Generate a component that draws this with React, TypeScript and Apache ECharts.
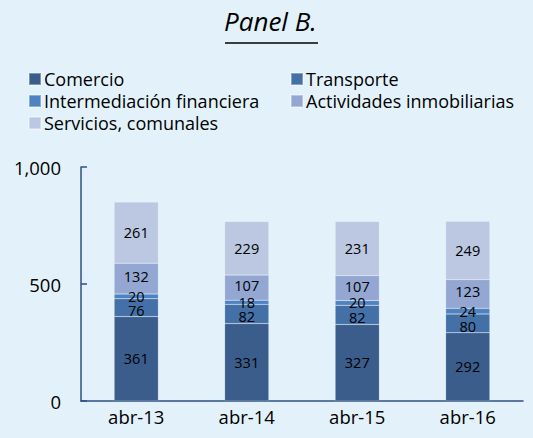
import React, { useEffect, useRef } from "react";
import * as echarts from "echarts";

const categories = ["abr-13", "abr-14", "abr-15", "abr-16"];
const comercio = [361, 331, 327, 292];
const transporte = [76, 82, 82, 80];
const intermediacion = [20, 18, 20, 24];
const actividades = [132, 107, 107, 123];
const servicios = [261, 229, 231, 249];
const seriesNames = [
  "Comercio",
  "Transporte",
  "Intermediación financiera",
  "Actividades inmobiliarias",
  "Servicios, comunales",
];
const colors = ["#3A5D8C", "#4370A7", "#4F82C0", "#93A7D2", "#BCC7E1"];
const labelOffsets = [[0, 0], [0, 3], [0, 0], [0, -2], [0, 0]];

export default function App() {
  const ref = useRef<HTMLDivElement>(null);
  useEffect(() => {
    document.body.style.margin = "0";
    const chart = echarts.init(ref.current!, undefined, { renderer: "svg" });
    const values = [comercio, transporte, intermediacion, actividades, servicios];
    const font = "'Open Sans', 'Noto Sans', sans-serif";
    const legendPos = [
      { left: 28, top: 70 },
      { left: 290, top: 70 },
      { left: 28, top: 92 },
      { left: 290, top: 92 },
      { left: 28, top: 114 },
    ];
    chart.setOption({
      animation: false,
      backgroundColor: "#E3F2FA",
      color: colors,
      legend: seriesNames.map((n, i) => ({
        data: [n],
        left: legendPos[i].left,
        top: legendPos[i].top,
        itemWidth: 12,
        itemHeight: 12,
        itemGap: 4,
        icon: "rect",
        padding: 0,
        textStyle: { fontSize: 18, color: "#000", fontFamily: font, padding: [0, 0, 0, -2] },
        selectedMode: false,
      })),
      graphic: [
        {
          type: "text",
          left: 224,
          top: 8,
          style: {
            text: "Panel B.",
            fontSize: 26,
            fontStyle: "italic",
            fontFamily: font,
            fill: "#000",
          },
        },
        {
          type: "line",
          shape: { x1: 225, y1: 43, x2: 318, y2: 43 },
          style: { stroke: "#000", lineWidth: 1.5 },
        },
      ],
      grid: { left: 81, right: 10, top: 167, bottom: 37 },
      xAxis: {
        type: "category",
        data: categories,
        axisLine: { lineStyle: { color: "#2F4F86", width: 1.5 } },
        axisTick: { inside: true, length: 6, lineStyle: { color: "#2F4F86", width: 1.5 } },
        axisLabel: { fontSize: 18.5, color: "#000", fontFamily: font, margin: 6 },
      },
      yAxis: {
        type: "value",
        min: 0,
        max: 1000,
        interval: 500,
        axisLine: { show: true, lineStyle: { color: "#2F4F86", width: 1.5 } },
        axisTick: { show: true, inside: true, length: 6, lineStyle: { color: "#2F4F86", width: 1.5 } },
        splitLine: { show: false },
        axisLabel: {
          fontSize: 18.5,
          color: "#000",
          fontFamily: font,
          margin: 20,
          formatter: (v: number) => v.toLocaleString("en-US"),
        },
      },
      series: seriesNames.map((n, i) => ({
        name: n,
        type: "bar",
        stack: "total",
        barWidth: "40%",
        data: values[i],
        itemStyle: { color: colors[i], borderColor: "rgba(255,255,255,0.35)", borderWidth: 0.5 },
        label: {
          show: true,
          position: "inside",
          fontSize: 14.5,
          color: "#000",
          fontFamily: font,
          lineHeight: 12,
          offset: labelOffsets[i],
        },
      })),
    });
    return () => chart.dispose();
  }, []);
  return <div ref={ref} style={{ width: 533, height: 438 }} />;
}
